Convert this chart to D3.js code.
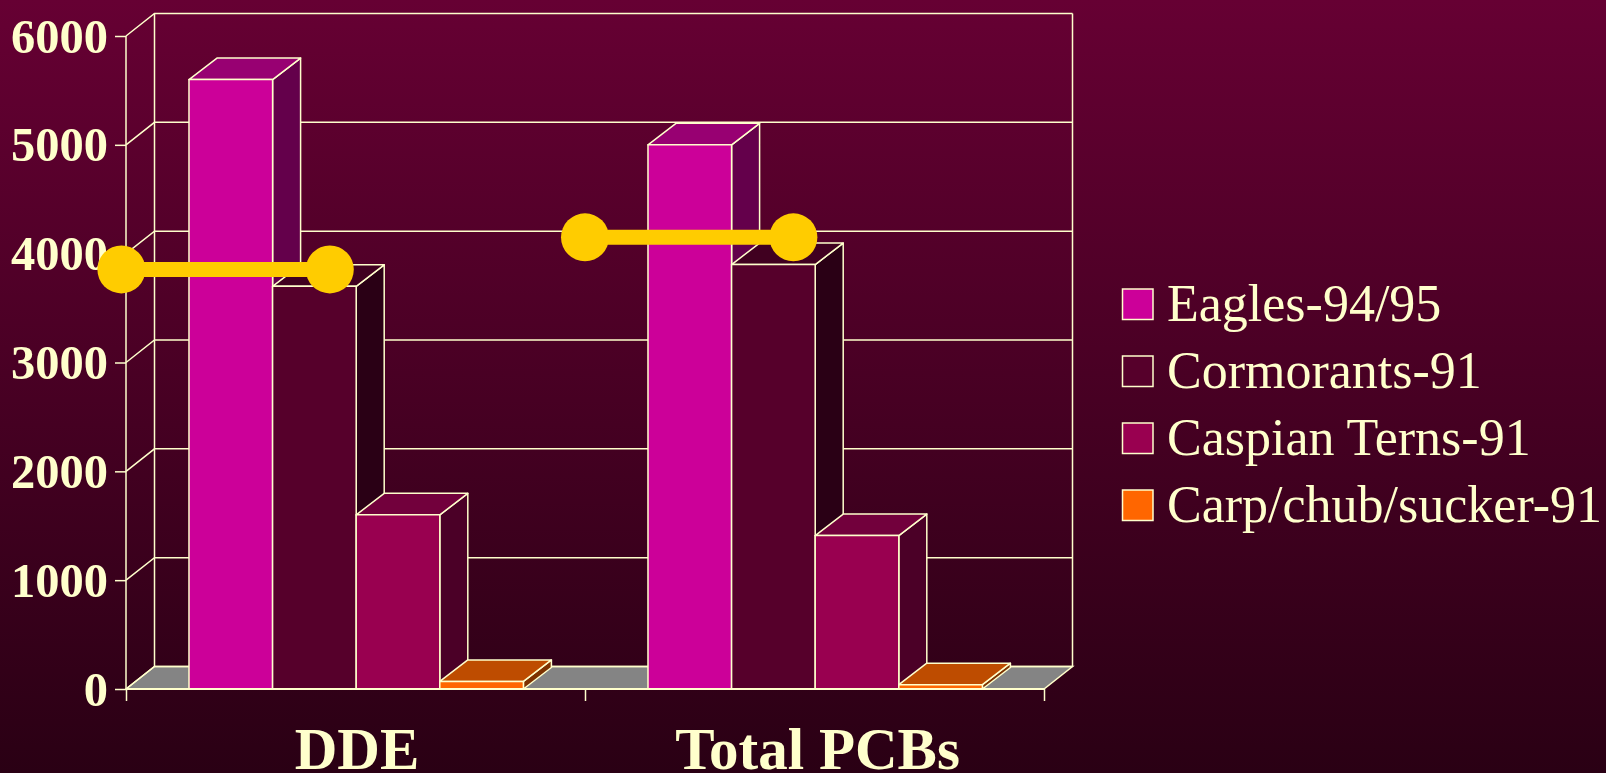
<!DOCTYPE html>
<html>
<head>
<meta charset="utf-8">
<script src="https://cdn.jsdelivr.net/npm/d3@7"></script>
<style>
    html, body { margin: 0; padding: 0; background: #2b0015; overflow: hidden; }
    svg { display: block; }
    text { font-family: "Liberation Serif", serif; fill: #ffffcc; }
</style>
</head>
<body>
<div id="chart"></div>
<script>
var categories = ["DDE", "Total PCBs"];
var seriesNames = ["Eagles-94/95", "Cormorants-91", "Caspian Terns-91", "Carp/chub/sucker-91"];
var seriesColors = ["#cc0099", "#56002b", "#990050", "#ff6600"];
var ddeValues = [5600, 3700, 1600, 70];
var pcbValues = [5000, 3900, 1410, 40];
var yTicks = [0, 1000, 2000, 3000, 4000, 5000, 6000];
// yellow dumbbells: level on the y axis, ends in category units
var markerLevels = [3855, 4150];
var markerStarts = [-0.01, 1.0];
var markerEnds = [0.444, 1.454];

var width = 1606, height = 773,
    margin = {top: 36, left: 126, right: 562, bottom: 84},
    lineColor = "#ffffcc";

// how far the back wall is shifted from the front plane
var depthX = 28.5, depthY = -22.5;
// the boxes are a little shallower than the walls
var barDepthX = 28, barDepthY = -21.5;

var svg = d3.select("#chart").append("svg").attr("width", width).attr("height", height);

var grad = svg.append("defs").append("linearGradient")
    .attr("id", "bg").attr("x1", 0).attr("y1", 0).attr("x2", 0).attr("y2", 1);
grad.append("stop").attr("offset", "0%").attr("stop-color", "#660033");
grad.append("stop").attr("offset", "100%").attr("stop-color", "#2a0014");

svg.append("rect").attr("width", width).attr("height", height).style("fill", "url(#bg)");

var x = d3.scaleLinear().domain([0, 2]).range([margin.left, width - margin.right]);
var y = d3.scaleLinear().domain([0, 6000]).range([height - margin.bottom, margin.top]);
var inner = d3.scaleBand().domain(seriesNames).range([0, x(1) - x(0)]).paddingInner(0).paddingOuter(0.745);
var color = d3.scaleOrdinal().domain(seriesNames).range(seriesColors);

function poly(points) {
    return "M" + points.map(p => p.join(",")).join("L") + "Z";
}

var walls = svg.append("g").attr("fill", "none").attr("stroke", lineColor).attr("stroke-width", 1.5);

// floor
walls.append("path")
    .attr("d", poly([[x(0), y(0)], [x(2), y(0)], [x(2) + depthX, y(0) + depthY], [x(0) + depthX, y(0) + depthY]]))
    .style("fill", "#848484");

// grid on back wall and left wall
walls.selectAll(".grid")
    .data(yTicks)
    .enter()
    .append("path")
    .attr("class", "grid")
    .attr("d", d => "M" + x(0) + "," + y(d) + "L" + (x(0) + depthX) + "," + (y(d) + depthY) + "L" + (x(2) + depthX) + "," + (y(d) + depthY));

walls.append("path")
    .attr("d", "M" + (x(0) + depthX) + "," + (y(0) + depthY) + "V" + (y(6000) + depthY));
walls.append("path")
    .attr("d", "M" + (x(2) + depthX) + "," + (y(0) + depthY) + "V" + (y(6000) + depthY));

// axes
var yAxis = d3.axisLeft(y).tickValues(yTicks).tickSize(11).tickPadding(7).tickFormat(d3.format("d"));
var yG = svg.append("g").attr("transform", "translate(" + x(0) + ",0)").call(yAxis);
yG.selectAll("text").style("font-size", "48.5px").style("font-weight", "bold")
    .style("font-family", "'Liberation Serif', serif").style("fill", lineColor).attr("dy", "0.33em");
yG.selectAll("line").attr("stroke", lineColor).attr("stroke-width", 1.5);
yG.select(".domain").attr("stroke", lineColor).attr("stroke-width", 1.5).attr("d", "M0," + y(0) + "V" + y(6000));

var xAxis = d3.axisBottom(x).tickValues([0, 1, 2]).tickSize(12).tickFormat("");
var xG = svg.append("g").attr("transform", "translate(0," + y(0) + ")").call(xAxis);
xG.selectAll("line").attr("stroke", lineColor).attr("stroke-width", 1.5);
xG.select(".domain").attr("stroke", lineColor).attr("stroke-width", 1.8).attr("d", "M" + x(0) + ",0H" + x(2));

svg.selectAll(".catLabel")
    .data(categories)
    .enter()
    .append("text")
    .attr("class", "catLabel")
    .attr("x", (d, i) => x(i + 0.5) + (i == 0 ? 1.5 : 3))
    .attr("y", 769)
    .style("text-anchor", "middle")
    .style("font-size", "59px")
    .style("font-weight", "bold")
    .text(d => d);

// bars, one box per value
var rows = [];
categories.forEach((c, i) => {
    var vals = i == 0 ? ddeValues : pcbValues;
    seriesNames.forEach((s, j) => rows.push({cat: i, series: s, value: vals[j]}));
});

var boxes = svg.append("g").selectAll("g")
    .data(rows)
    .enter()
    .append("g")
    .attr("stroke", lineColor)
    .attr("stroke-width", 1.5)
    .attr("stroke-linejoin", "round");

function barLeft(d) { return x(d.cat) + inner(d.series) + 0.7; }
function barRight(d) { return barLeft(d) + inner.bandwidth(); }

boxes.append("path")
    .attr("d", d => poly([[barRight(d), y(0)], [barRight(d) + barDepthX, y(0) + barDepthY], [barRight(d) + barDepthX, y(d.value) + barDepthY], [barRight(d), y(d.value)]]))
    .style("fill", d => d3.rgb(color(d.series)).darker(2).toString());

boxes.append("path")
    .attr("d", d => poly([[barLeft(d), y(d.value)], [barRight(d), y(d.value)], [barRight(d) + barDepthX, y(d.value) + barDepthY], [barLeft(d) + barDepthX, y(d.value) + barDepthY]]))
    .style("fill", d => d3.rgb(color(d.series)).darker(0.83).toString());

boxes.append("rect")
    .attr("x", barLeft)
    .attr("y", d => y(d.value))
    .attr("width", inner.bandwidth())
    .attr("height", d => y(0) - y(d.value))
    .style("fill", d => color(d.series));

// the baseline runs over the bar feet
svg.append("path")
    .attr("d", "M" + x(0) + "," + y(0) + "H" + x(2))
    .attr("stroke", lineColor).attr("stroke-width", 1.8).attr("fill", "none");

// legend
var legendX = 1122.5, legendTop = 289, legendStep = 67, swatch = 30.5;
var legend = svg.append("g").attr("class", "legend").selectAll("g")
    .data(seriesNames)
    .enter()
    .append("g")
    .attr("transform", (d, i) => "translate(" + legendX + "," + (legendTop + i * legendStep) + ")");

legend.append("rect")
    .attr("width", swatch).attr("height", swatch)
    .attr("stroke", lineColor).attr("stroke-width", 1.5)
    .style("fill", d => color(d));

legend.append("text")
    .attr("x", 44.5)
    .attr("y", 31.5)
    .style("font-size", "52px")
    .text(d => d);

// dumbbells
var markers = svg.append("g").selectAll("g")
    .data(markerLevels)
    .enter()
    .append("g");

markers.append("line")
    .attr("x1", (d, i) => x(markerStarts[i])).attr("x2", (d, i) => x(markerEnds[i]))
    .attr("y1", d => y(d)).attr("y2", d => y(d))
    .attr("stroke", "#ffcc00").attr("stroke-width", 15);
markers.append("circle")
    .attr("cx", (d, i) => x(markerStarts[i])).attr("cy", d => y(d)).attr("r", 24)
    .style("fill", "#ffcc00");
markers.append("circle")
    .attr("cx", (d, i) => x(markerEnds[i])).attr("cy", d => y(d)).attr("r", 24)
    .style("fill", "#ffcc00");
</script>
</body>
</html>
